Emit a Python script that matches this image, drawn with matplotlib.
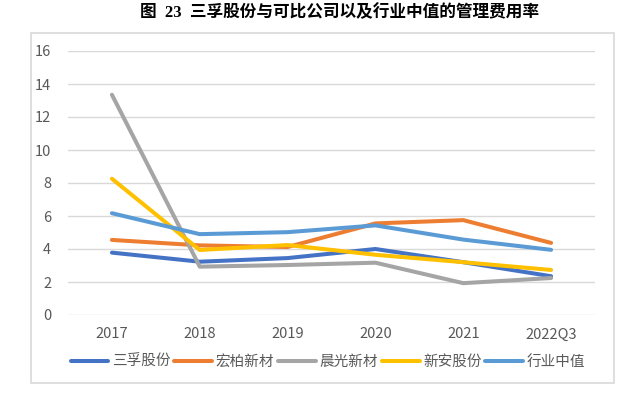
import matplotlib
matplotlib.use('Agg')
import matplotlib.pyplot as plt
from matplotlib.patches import Rectangle

plt.rcParams['font.family'] = ['Noto Sans CJK SC', 'DejaVu Sans']

years = ['2017', '2018', '2019', '2020', '2021', '2022Q3']
sanfu = [3.78, 3.23, 3.45, 4.0, 3.2, 2.35]
hongbai = [4.55, 4.22, 4.12, 5.55, 5.75, 4.37]
chenguang = [13.35, 2.93, 3.03, 3.17, 1.93, 2.24]
xinan = [8.26, 3.94, 4.24, 3.65, 3.2, 2.73]
median = [6.17, 4.9, 5.02, 5.43, 4.57, 3.95]

labels = ['三孚股份', '宏柏新材', '晨光新材', '新安股份', '行业中值']
colors = ['#4472C4', '#ED7D31', '#A5A5A5', '#FFC000', '#5B9BD5']
series = [sanfu, hongbai, chenguang, xinan, median]

fig = plt.figure(figsize=(6.38, 3.96), dpi=100)
# outer chart frame
fig.patches.append(Rectangle((31/638, 1-383/396), 583/638, 350/396,
                             transform=fig.transFigure, fill=False,
                             edgecolor='#D9D9D9', linewidth=1.2))
ax = fig.add_axes([68/638, 1-315/396, 527/638, 264/396])

x = range(len(years))
for s, lab, c in zip(series, labels, colors):
    ax.plot(x, s, color=c, linewidth=2.9, label=lab, solid_capstyle='round')

ax.set_xlim(-0.5, 5.5)
ax.set_ylim(0, 16)
ax.set_yticks(range(0, 17, 2))
ax.set_xticks(list(x))
ax.set_xticklabels(years)
ax.grid(axis='y', color='#D9D9D9', linewidth=1)
ax.set_axisbelow(True)
for sp in ax.spines.values():
    sp.set_visible(False)
ax.tick_params(length=0, labelsize=10.5, labelcolor='#595959')
ax.tick_params(axis='x', pad=9)
ax.tick_params(axis='y', pad=12)

fig.legend(loc='center', bbox_to_anchor=(328/638, 1-362/396), ncol=5,
           frameon=False, fontsize=10.5, handlelength=2.6, columnspacing=0.25,
           handletextpad=0.25, labelcolor='#595959')

fig.text(339/638, 1-13/396, '图  23  三孚股份与可比公司以及行业中值的管理费用率',
         ha='center', va='center', fontsize=12, fontweight='bold', color='black',
         family=['Liberation Serif', 'Noto Sans CJK SC'])

plt.savefig('out.png', dpi=100)
